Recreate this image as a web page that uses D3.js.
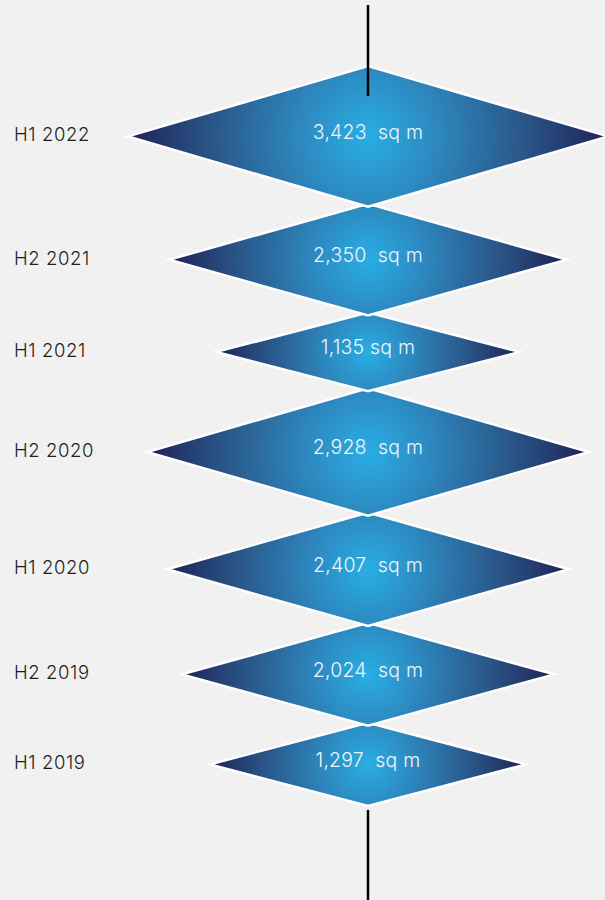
<!DOCTYPE html>
<html>
<head>
<meta charset="utf-8">
<script src="https://cdn.jsdelivr.net/npm/d3@7"></script>
<style>
  html, body { margin: 0; padding: 0; background: #f1f1f1; }
  text { white-space: pre; }
</style>
</head>
<body>
<div id="chart"></div>
<script>
// half-year periods, top to bottom
var periods = ["H1 2022", "H2 2021", "H1 2021", "H2 2020", "H1 2020", "H2 2019", "H1 2019"];
// take-up in sq m
var areas = [3423, 2350, 1135, 2928, 2407, 2024, 1297];
var areaLabels = ["3,423  sq m", "2,350  sq m", "1,135 sq m", "2,928  sq m", "2,407  sq m", "2,024  sq m", "1,297  sq m"];

var width = 605, height = 900;
var cx = 368;
var overlap = 3;

var svg = d3.select("#chart")
    .append("svg")
    .attr("width", width)
    .attr("height", height);

svg.append("rect")
    .attr("width", width)
    .attr("height", height)
    .attr("fill", "#f1f1f1");

// size of each diamond from its value
var halfW = d3.scaleLinear().domain([0, d3.max(areas)]).range([108, 240]);
var halfH = d3.scaleLinear().domain([0, d3.max(areas)]).range([24, 70.4]);

// stack the diamonds tip to tip
var centers = [];
areas.forEach(function(v, i) {
    if (i === 0) {
        centers.push(66 + halfH(v));
    } else {
        centers.push(centers[i - 1] + halfH(areas[i - 1]) + halfH(v) - overlap);
    }
});

var rows = areas.map(function(v, i) {
    return {period: periods[i], value: v, label: areaLabels[i], y: centers[i],
            w: halfW(v), h: halfH(v), i: i};
});

// one radial gradient per diamond so it stays round
var defs = svg.append("defs");
rows.forEach(function(d) {
    var g = defs.append("radialGradient")
        .attr("id", "grad" + d.i)
        .attr("gradientUnits", "userSpaceOnUse")
        .attr("cx", cx)
        .attr("cy", d.y)
        .attr("r", d.w);
    g.append("stop").attr("offset", "0%").attr("stop-color", "#29aee4");
    g.append("stop").attr("offset", "30%").attr("stop-color", "#2d86bd");
    g.append("stop").attr("offset", "65%").attr("stop-color", "#2a5688");
    g.append("stop").attr("offset", "100%").attr("stop-color", "#1f2256");
});

// draw bottom first so the upper diamonds sit on top
var diamonds = svg.append("g")
    .selectAll("g")
    .data(rows.slice().reverse())
    .join("g");

diamonds.append("path")
    .attr("d", function(d) {
        return "M" + (cx - d.w) + "," + d.y +
            "L" + cx + "," + (d.y - d.h) +
            "L" + (cx + d.w) + "," + d.y +
            "L" + cx + "," + (d.y + d.h) + "Z";
    })
    .attr("fill", function(d) { return "url(#grad" + d.i + ")"; })
    .attr("stroke", "#ffffff")
    .attr("stroke-width", 2.5)
    .attr("stroke-linejoin", "miter");

diamonds.append("text")
    .attr("x", cx)
    .attr("y", function(d) { return d.y - 3; })
    .attr("text-anchor", "middle")
    .attr("dominant-baseline", "middle")
    .attr("font-family", "Inter, 'Open Sans', sans-serif")
    .attr("font-weight", 300)
    .attr("font-size", 19.5)
    .attr("letter-spacing", 0.2)
    .attr("fill", "#eef5fb")
    .text(function(d) { return d.label; });

// period labels
svg.append("g")
    .selectAll("text")
    .data(rows)
    .join("text")
    .attr("x", 14)
    .attr("y", function(d) { return d.y; })
    .attr("dominant-baseline", "middle")
    .attr("font-family", "Inter, 'Open Sans', sans-serif")
    .attr("font-weight", 300)
    .attr("font-size", 18.5)
    .attr("letter-spacing", 0.6)
    .attr("fill", "#1d1d1d")
    .text(function(d) { return d.period; });

// vertical spine
var first = rows[0], last = rows[rows.length - 1];
svg.append("line")
    .attr("x1", cx).attr("x2", cx)
    .attr("y1", 5).attr("y2", first.y - first.h + 30)
    .attr("stroke", "#000").attr("stroke-width", 2.5);
svg.append("line")
    .attr("x1", cx).attr("x2", cx)
    .attr("y1", last.y + last.h + 4).attr("y2", height)
    .attr("stroke", "#000").attr("stroke-width", 2.5);
</script>
</body>
</html>
